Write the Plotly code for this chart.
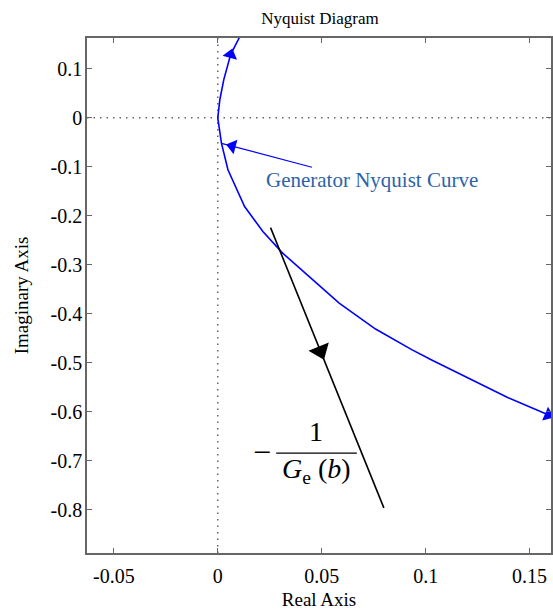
import plotly.graph_objects as go

# Generator Nyquist curve
curve_re = [0.0105, 0.0062, 0.0029, 0.0010, 0.0, 0.0018, 0.0049, 0.0129, 0.0217, 0.0312,
            0.0440, 0.0584, 0.0759, 0.0933, 0.1029, 0.1206, 0.1397, 0.1589, 0.1650]
curve_im = [0.165, 0.129, 0.078, 0.037, 0.0, -0.052, -0.106, -0.181, -0.232, -0.276,
            -0.324, -0.378, -0.431, -0.473, -0.494, -0.531, -0.571, -0.606, -0.618]

# -1/Ge(b) line
desc_re = [0.0254, 0.0799]
desc_im = [-0.224, -0.796]
desc_arrow_frac = 0.44

# label pointer (tail -> point on curve)
label_tail = (0.0453, -0.1006)
label_tip_index = 5

x_ticks = [-0.05, 0, 0.05, 0.1, 0.15]
x_ticktext = ['-0.05', '0', '0.05', '0.1', '0.15']
y_ticks = [0.1, 0, -0.1, -0.2, -0.3, -0.4, -0.5, -0.6, -0.7, -0.8]
y_ticktext = ['0.1', '0', '-0.1', '-0.2', '-0.3', '-0.4', '-0.5', '-0.6', '-0.7', '-0.8']

FONT = "Liberation Serif"
BLUE = "#0000ff"

fig = go.Figure()
fig.add_trace(go.Scatter(x=curve_re, y=curve_im, mode="lines",
                         line=dict(color=BLUE, width=1.6), showlegend=False, hoverinfo="skip"))

# direction arrows on the blue curve
for prev_i, i in [(2, 1), (16, 17)]:
    fig.add_trace(go.Scatter(x=[curve_re[prev_i], curve_re[i]], y=[curve_im[prev_i], curve_im[i]],
                             mode="markers",
                             marker=dict(symbol="triangle-up", size=[0, 13], color=BLUE, opacity=1,
                                         angleref="previous", line=dict(width=0)),
                             showlegend=False, hoverinfo="skip"))

# pointer from the label to the curve
tip = (curve_re[label_tip_index], curve_im[label_tip_index])
fig.add_trace(go.Scatter(x=[label_tail[0], tip[0]], y=[label_tail[1], tip[1]], mode="lines",
                         line=dict(color=BLUE, width=1.1), showlegend=False, hoverinfo="skip"))
dx, dy = tip[0] - label_tail[0], tip[1] - label_tail[1]
head_c = (tip[0] - 0.12 * dx, tip[1] - 0.12 * dy)
fig.add_trace(go.Scatter(x=[label_tail[0], head_c[0]], y=[label_tail[1], head_c[1]], mode="markers",
                         marker=dict(symbol="triangle-up", size=[0, 13], color=BLUE, opacity=1,
                                     angleref="previous", line=dict(width=0)),
                         showlegend=False, hoverinfo="skip"))

fig.add_trace(go.Scatter(x=desc_re, y=desc_im, mode="lines",
                         line=dict(color="black", width=1.6), showlegend=False, hoverinfo="skip"))
ax_ = desc_re[0] + desc_arrow_frac * (desc_re[1] - desc_re[0])
ay_ = desc_im[0] + desc_arrow_frac * (desc_im[1] - desc_im[0])
fig.add_trace(go.Scatter(x=[desc_re[0], ax_], y=[desc_im[0], ay_], mode="markers",
                         marker=dict(symbol="triangle-up", size=[0, 19], color="black", opacity=1,
                                     angleref="previous", line=dict(width=0)),
                         showlegend=False, hoverinfo="skip"))

annotations = [
    dict(x=0.0740, y=-0.127, xref="x", yref="y", text="Generator Nyquist Curve",
         showarrow=False, font=dict(family=FONT, size=21, color="#2e63a6")),
    dict(x=0.0215, y=-0.682, xref="x", yref="y", text="\u2212", showarrow=False,
         font=dict(family=FONT, size=32, color="black")),
    dict(x=0.0473, y=-0.640, xref="x", yref="y", text="1", showarrow=False,
         font=dict(family=FONT, size=28, color="black")),
    dict(x=0.0477, y=-0.720, xref="x", yref="y", text="<i>G</i><sub>e</sub> (<i>b</i>)",
         showarrow=False, font=dict(family=FONT, size=28, color="black")),
    dict(x=(21.5 - 87) / 466, y=0.5, xref="paper", yref="paper", text="Imaginary Axis",
         textangle=-90, showarrow=False, xanchor="center", yanchor="middle",
         font=dict(family=FONT, size=19, color="black")),
]

shapes = [
    dict(type="line", xref="x", yref="y domain", x0=0, x1=0, y0=0, y1=1,
         line=dict(color="#666", width=1.5, dash="1.5px,5px"), layer="below"),
    dict(type="line", xref="x domain", yref="y", x0=0, x1=1, y0=0, y1=0,
         line=dict(color="#666", width=1.5, dash="1.5px,5px"), layer="below"),
    dict(type="line", xref="x", yref="y", x0=0.0281, x1=0.0669, y0=-0.684, y1=-0.684,
         line=dict(color="black", width=1.2)),
]

axis_common = dict(showgrid=False, zeroline=False, showline=True, linecolor="#666",
                   linewidth=1.6, mirror="ticks", ticks="inside", ticklen=5,
                   tickcolor="#666", tickwidth=1.2,
                   tickfont=dict(family=FONT, size=20, color="black"))

fig.update_layout(
    width=553, height=610,
    margin=dict(l=87, r=0, t=38, b=57),
    paper_bgcolor="white", plot_bgcolor="white",
    title=dict(text="Nyquist Diagram", x=320 / 553, xanchor="center", y=1 - 18 / 610,
               yanchor="middle", font=dict(family=FONT, size=17, color="black")),
    xaxis=dict(range=[-0.0629, 0.1603], tickvals=x_ticks, ticktext=x_ticktext,
               ticklabelstandoff=4,
               title=dict(text="Real Axis", font=dict(family=FONT, size=19, color="black"),
                          standoff=10),
               **axis_common),
    yaxis=dict(range=[-0.888, 0.163], tickvals=y_ticks, ticktext=y_ticktext,
               ticklabelstandoff=-1,
               **axis_common),
    annotations=annotations,
    shapes=shapes,
)

fig.write_html("out.html")
